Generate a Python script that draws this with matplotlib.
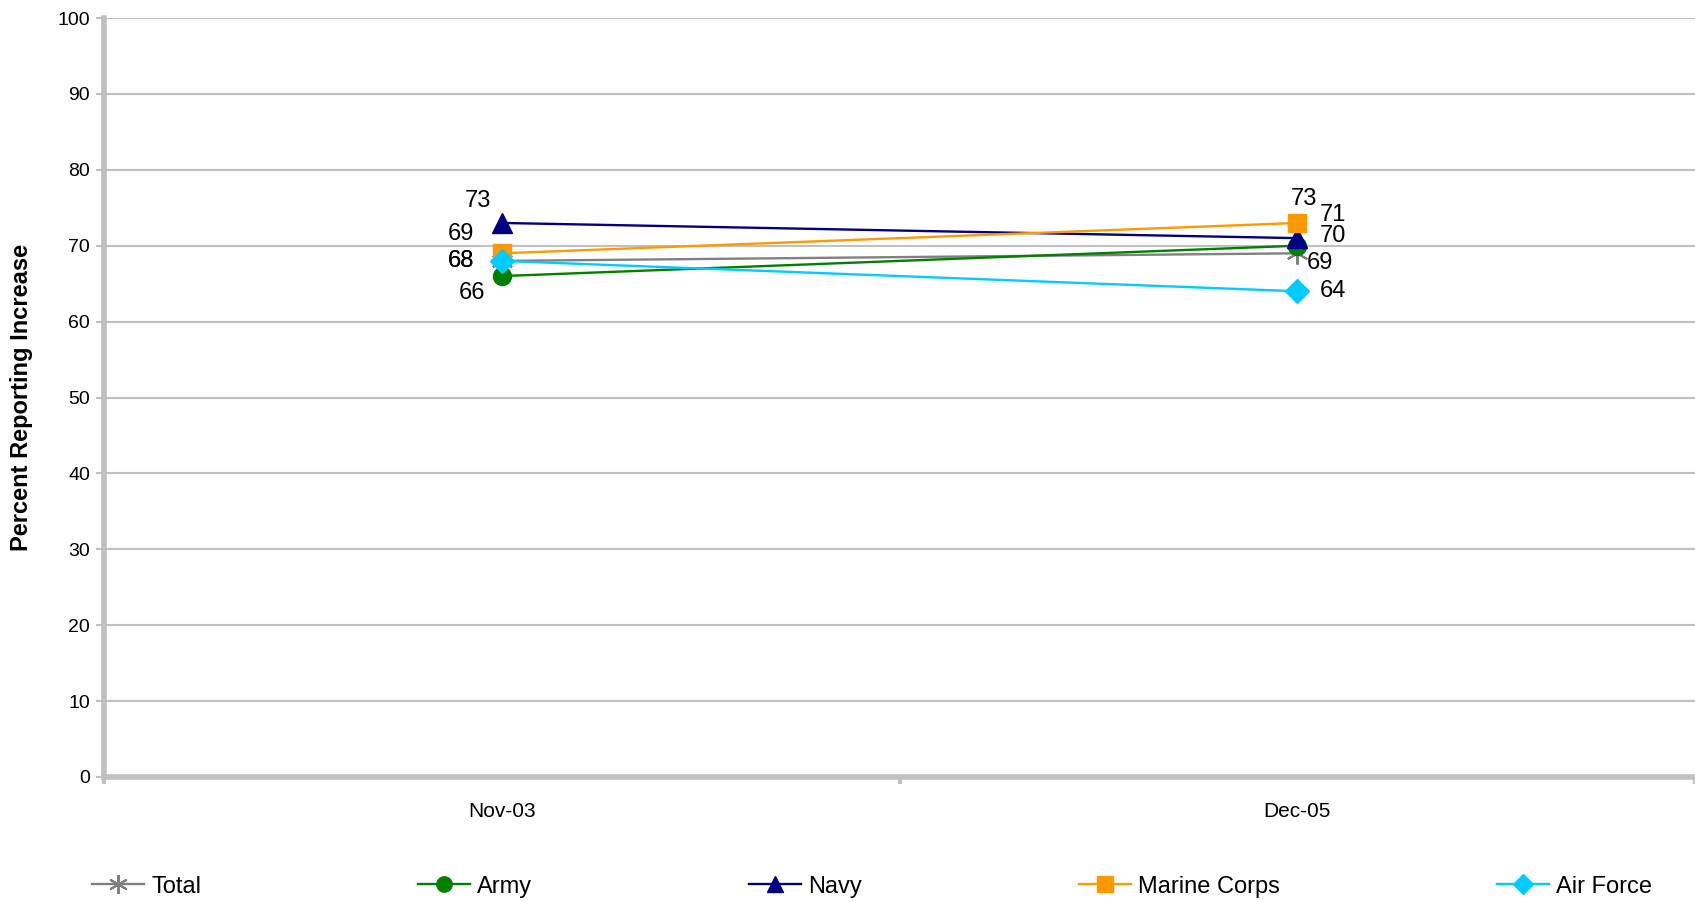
import matplotlib
matplotlib.use("Agg")
import matplotlib.pyplot as plt

plt.rcParams['font.family'] = ['Liberation Sans', 'DejaVu Sans']

categories = ["Nov-03", "Dec-05"]
series_names = ["Total", "Army", "Navy", "Marine Corps", "Air Force"]
total = [68, 69]
army = [66, 70]
navy = [73, 71]
marine = [69, 73]
airforce = [68, 64]
yticks = [0, 10, 20, 30, 40, 50, 60, 70, 80, 90, 100]

values = [total, army, navy, marine, airforce]
colors = ["#808080", "#008000", "#000080", "#FF9900", "#00CCFF"]
markers = [(6, 2, 0), "o", "^", "s", "D"]
msizes = [16, 13, 14, 13, 12]

fig = plt.figure(figsize=(16.95, 9.02), dpi=100)
ax = fig.add_axes([0.0614, 0.1386, 0.9386, 0.8414])

x = list(range(len(categories)))
handles = []
for i, (name, vals) in enumerate(zip(series_names, values)):
    mew = 1.5 if i == 0 else 1
    h, = ax.plot(x, vals, color=colors[i], marker=markers[i], markersize=msizes[i],
                 linewidth=1.7, markeredgewidth=mew, label=name, zorder=3 + i)
    handles.append(h)

label_offsets = {
    ("Total", 0): (-20, 0, "right", "center"),
    ("Army", 0): (-12, -12, "right", "center"),
    ("Navy", 0): (-8, 16, "right", "center"),
    ("Marine Corps", 0): (-20, 14, "right", "center"),
    ("Air Force", 0): (-20, 0, "right", "center"),
    ("Total", 1): (7, -7, "left", "center"),
    ("Army", 1): (16, 7, "left", "center"),
    ("Navy", 1): (16, 17, "left", "center"),
    ("Marine Corps", 1): (5, 17, "center", "center"),
    ("Air Force", 1): (16, 0, "left", "center"),
}
for name, vals in zip(series_names, values):
    for j, v in enumerate(vals):
        dx, dy, ha, va = label_offsets[(name, j)]
        ax.annotate(str(v), (x[j], v), xytext=(dx, dy), textcoords="offset points",
                    ha=ha, va=va, fontsize=17, color="black", zorder=20)

ax.set_xlim(-0.5, 1.5)
ax.set_ylim(0, 100)
ax.set_yticks(yticks)
ax.set_yticklabels([str(t) for t in yticks], fontsize=14)
ax.yaxis.grid(True, color="#c0c0c0", linewidth=1.5)
ax.set_axisbelow(True)

ax.set_xticks([-0.5, 0.5, 1.5])
ax.set_xticklabels(["", "", ""])
ax.set_xticks(x, minor=True)
ax.set_xticklabels(categories, minor=True, fontsize=15)
ax.tick_params(axis="x", which="minor", length=0, pad=18)
ax.tick_params(axis="x", which="major", length=5, width=3, color="#c0c0c0")
ax.tick_params(axis="y", length=6, width=1.5, color="#c0c0c0", pad=4)

for s in ["top", "right"]:
    ax.spines[s].set_visible(False)
for s in ["left", "bottom"]:
    ax.spines[s].set_color("#c0c0c0")
    ax.spines[s].set_linewidth(4)

ax.set_ylabel("Percent Reporting Increase", fontsize=17, fontweight="bold", labelpad=18)

fig.legend(handles=handles, labels=series_names, loc="center", ncol=5,
           bbox_to_anchor=(0.042, -0.008, 0.945, 0.05), mode="expand", frameon=False,
           fontsize=17, handlelength=2.2, handletextpad=0.3, markerscale=0.85)

fig.savefig("out.png", dpi=100)
